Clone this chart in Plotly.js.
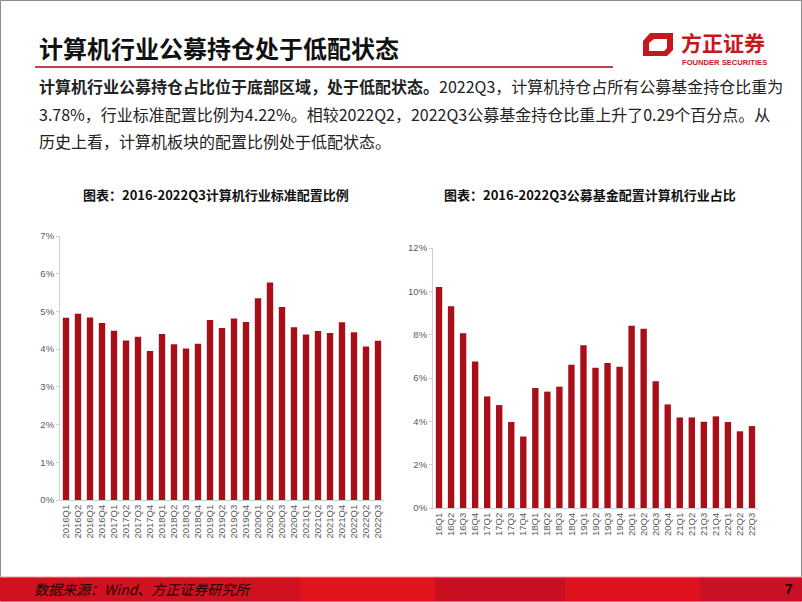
<!DOCTYPE html>
<html>
<head>
<meta charset="utf-8">
<script src="https://cdn.plot.ly/plotly-3.0.1.min.js"></script>
<style>
html,body{margin:0;padding:0;background:#fff;}
#chart{width:802px;height:602px;}
</style>
</head>
<body>
<div id="chart"></div>
<script>
// ---- data ----
const quartersLong = ["2016Q1","2016Q2","2016Q3","2016Q4","2017Q1","2017Q2","2017Q3","2017Q4","2018Q1","2018Q2","2018Q3","2018Q4","2019Q1","2019Q2","2019Q3","2019Q4","2020Q1","2020Q2","2020Q3","2020Q4","2021Q1","2021Q2","2021Q3","2021Q4","2022Q1","2022Q2","2022Q3"];
const standardWeight = [0.0483,0.0494,0.0484,0.0469,0.0449,0.0423,0.0433,0.0395,0.0440,0.0413,0.0402,0.0414,0.0477,0.0456,0.0481,0.0472,0.0535,0.0577,0.0512,0.0458,0.0439,0.0448,0.0443,0.0471,0.0445,0.0407,0.0422];
const quartersShort = ["16Q1","16Q2","16Q3","16Q4","17Q1","17Q2","17Q3","17Q4","18Q1","18Q2","18Q3","18Q4","19Q1","19Q2","19Q3","19Q4","20Q1","20Q2","20Q3","20Q4","21Q1","21Q2","21Q3","21Q4","22Q1","22Q2","22Q3"];
const fundWeight = [0.1020,0.0931,0.0806,0.0676,0.0515,0.0475,0.0397,0.0330,0.0554,0.0537,0.0560,0.0661,0.0751,0.0647,0.0669,0.0652,0.0841,0.0827,0.0585,0.0478,0.0418,0.0418,0.0398,0.0423,0.0397,0.0354,0.0378];

const pageTitle = "计算机行业公募持仓处于低配状态";
const para = [
  "<b>计算机行业公募持仓占比位于底部区域，处于低配状态。</b>2022Q3，计算机持仓占所有公募基金持仓比重为",
  "3.78%，行业标准配置比例为4.22%。相较2022Q2，2022Q3公募基金持仓比重上升了0.29个百分点。从",
  "历史上看，计算机板块的配置比例处于低配状态。"
];
const leftTitle = "图表：2016-2022Q3计算机行业标准配置比例";
const rightTitle = "图表：2016-2022Q3公募基金配置计算机行业占比";
const sourceText = "数据来源：Wind、方正证券研究所";
const pageNum = "7";

// ---- helpers ----
const W = 802, H = 602;
const fx = x => x / W;
const fy = y => 1 - y / H;
const CJK = '"Noto Sans CJK SC", "Noto Sans", sans-serif';
const ARIAL = '"Liberation Sans", Arial, sans-serif';
const barColor = '#a90f19';

const traces = [
  {type:'bar', x: quartersLong, y: standardWeight, xaxis:'x', yaxis:'y',
   marker:{color: barColor}, hoverinfo:'x+y'},
  {type:'bar', x: quartersShort, y: fundWeight, xaxis:'x2', yaxis:'y2',
   marker:{color: barColor}, hoverinfo:'x+y'}
];

const axCommon = {
  showgrid:false, zeroline:false, showline:true, linecolor:'#d0d0d0', linewidth:1,
  ticks:'outside', ticklen:3, tickcolor:'#d0d0d0',
  tickfont:{family:ARIAL, size:9.5, color:'#595959'}, fixedrange:true
};

const layout = {
  width: W, height: H,
  margin:{l:0,r:0,t:0,b:0},
  paper_bgcolor:'#fff', plot_bgcolor:'#fff',
  showlegend:false, bargap:0.47,
  xaxis: Object.assign({}, axCommon, {domain:[fx(60), fx(384)], anchor:'y', type:'category',
     tickangle:-90, ticks:'', tickfont:{family:ARIAL, size:9.5, color:'#595959'}}),
  yaxis: Object.assign({}, axCommon, {domain:[fy(500), fy(236)], anchor:'x', range:[0,0.07], dtick:0.01, tickformat:'.0%'}),
  xaxis2: Object.assign({}, axCommon, {domain:[fx(433), fx(758)], anchor:'y2', type:'category',
     tickangle:-90, ticks:'', tickfont:{family:ARIAL, size:9.5, color:'#595959'}}),
  yaxis2: Object.assign({}, axCommon, {domain:[fy(508), fy(248)], anchor:'x2', range:[0,0.12], dtick:0.02, tickformat:'.0%'}),
  shapes: [
    // page frame
    {type:'rect', xref:'paper', yref:'paper', x0:fx(0.5), x1:fx(801.5), y0:fy(601.5), y1:fy(0.5), line:{color:'#8c8c8c', width:1}},
    // title underline
    {type:'line', xref:'paper', yref:'paper', x0:fx(35), x1:fx(613), y0:fy(67), y1:fy(67), line:{color:'#b8454d', width:2}},
    // footer band
    {type:'rect', xref:'paper', yref:'paper', x0:0, x1:1, y0:fy(601), y1:fy(577), fillcolor:'#cf1120', line:{width:0}},
    {type:'rect', xref:'paper', yref:'paper', x0:fx(300), x1:fx(435), y0:fy(601), y1:fy(577), fillcolor:'#e1131c', line:{width:0}},
    {type:'rect', xref:'paper', yref:'paper', x0:fx(435), x1:fx(565), y0:fy(601), y1:fy(577), fillcolor:'#c91022', line:{width:0}},
    {type:'rect', xref:'paper', yref:'paper', x0:fx(565), x1:fx(700), y0:fy(601), y1:fy(577), fillcolor:'#de121c', line:{width:0}},
    {type:'rect', xref:'paper', yref:'paper', x0:fx(700), x1:1, y0:fy(601), y1:fy(577), fillcolor:'#c81124', line:{width:0}},
    {type:'line', xref:'paper', yref:'paper', x0:0, x1:1, y0:fy(577), y1:fy(577), line:{color:'#e8a0a4', width:1}},
    // logo mark
    {type:'path', xref:'paper', yref:'paper', fillrule:'evenodd', fillcolor:'#c8161d', line:{width:0},
     path: 'M'+fx(643)+','+fy(41)+' L'+fx(650)+','+fy(33)+' L'+fx(673)+','+fy(33)+' L'+fx(673)+','+fy(50)+' L'+fx(667)+','+fy(56)+' L'+fx(643)+','+fy(56)+' Z ' +
           'M'+fx(649)+','+fy(43)+' L'+fx(654)+','+fy(39)+' L'+fx(667)+','+fy(39)+' L'+fx(667)+','+fy(48)+' L'+fx(664)+','+fy(51)+' L'+fx(649)+','+fy(51)+' Z'}
  ],
  annotations: [
    {xref:'paper', yref:'paper', x:fx(37), y:fy(47), xanchor:'left', yanchor:'middle', showarrow:false,
     text:'<b>'+pageTitle+'</b>', font:{family:CJK, size:24, color:'#111'}},
    {xref:'paper', yref:'paper', x:fx(679), y:fy(42), xanchor:'left', yanchor:'middle', showarrow:false,
     text:'<b>方正证券</b>', font:{family:CJK, size:21, color:'#c8161d'}},
    {xref:'paper', yref:'paper', x:fx(680), y:fy(63), xanchor:'left', yanchor:'middle', showarrow:false,
     text:'<b>FOUNDER SECURITIES</b>', font:{family:ARIAL, size:7.6, color:'#c8161d'}},
    {xref:'paper', yref:'paper', x:fx(37), y:fy(86), xanchor:'left', yanchor:'middle', showarrow:false,
     text:para[0], font:{family:CJK, size:16, color:'#222'}},
    {xref:'paper', yref:'paper', x:fx(37), y:fy(114), xanchor:'left', yanchor:'middle', showarrow:false,
     text:para[1], font:{family:CJK, size:16, color:'#222'}},
    {xref:'paper', yref:'paper', x:fx(37), y:fy(141), xanchor:'left', yanchor:'middle', showarrow:false,
     text:para[2], font:{family:CJK, size:16, color:'#222'}},
    {xref:'paper', yref:'paper', x:fx(216), y:fy(194), xanchor:'center', yanchor:'middle', showarrow:false,
     text:'<b>'+leftTitle+'</b>', font:{family:CJK, size:13, color:'#111'}},
    {xref:'paper', yref:'paper', x:fx(590), y:fy(194), xanchor:'center', yanchor:'middle', showarrow:false,
     text:'<b>'+rightTitle+'</b>', font:{family:CJK, size:13, color:'#111'}},
    {xref:'paper', yref:'paper', x:fx(32), y:fy(589), xanchor:'left', yanchor:'middle', showarrow:false,
     text:'<i>'+sourceText+'</i>', font:{family:CJK, size:14, color:'#1e0303'}},
    {xref:'paper', yref:'paper', x:fx(795), y:fy(589), xanchor:'right', yanchor:'middle', showarrow:false,
     text:'<b>'+pageNum+'</b>', font:{family:ARIAL, size:14, color:'#1e0303'}}
  ]
};

Plotly.newPlot('chart', traces, layout, {staticPlot:true, displayModeBar:false});
</script>
</body>
</html>
